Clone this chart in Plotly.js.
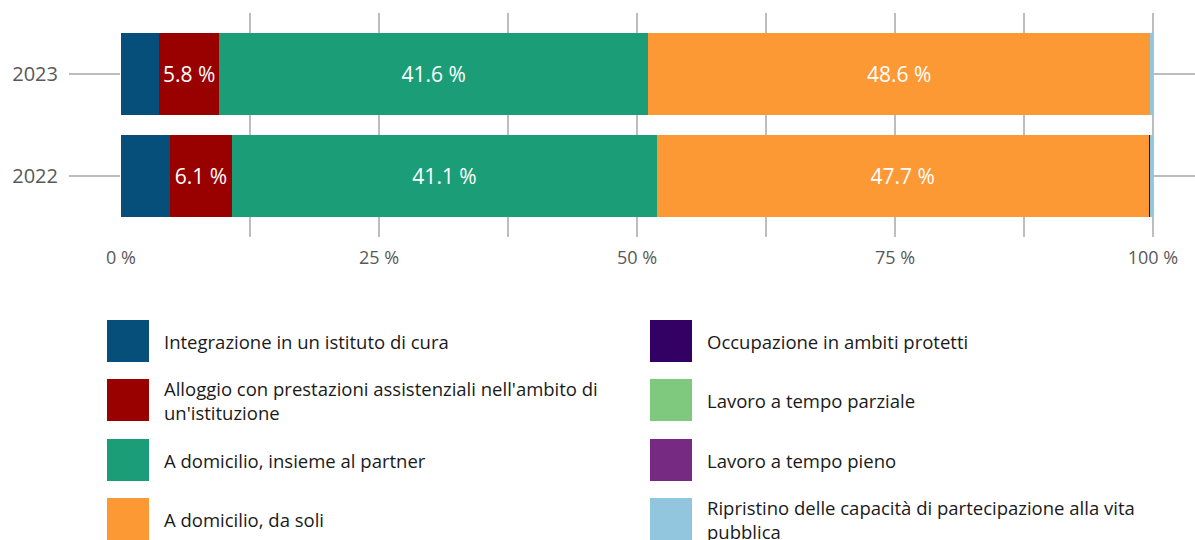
<!DOCTYPE html>
<html>
<head>
<meta charset="utf-8">
<script src="https://cdn.plot.ly/plotly-3.0.1.min.js"></script>
<style>html,body{margin:0;padding:0;background:#fff;}#chart{width:1195px;height:540px;}</style>
</head>
<body>
<div id="chart"></div>
<script>
// ---- data ----
const years = ['2022', '2023'];
const seriesNames = [
  'Integrazione in un istituto di cura',
  "Alloggio con prestazioni assistenziali nell'ambito di<br>un'istituzione",
  'A domicilio, insieme al partner',
  'A domicilio, da soli',
  'Occupazione in ambiti protetti',
  'Lavoro a tempo parziale',
  'Lavoro a tempo pieno',
  'Ripristino delle capacità di partecipazione alla vita<br>pubblica'
];
const integrazione = [4.7, 3.7];
const alloggio = [6.1, 5.8];
const partner = [41.1, 41.6];
const soli = [47.7, 48.6];
const occupazione = [0.1, 0.0];
const parziale = [0.0, 0.0];
const pieno = [0.0, 0.0];
const ripristino = [0.3, 0.3];
const seriesValues = [integrazione, alloggio, partner, soli, occupazione, parziale, pieno, ripristino];
const seriesColors = ['#054f7a', '#990000', '#1b9e77', '#fd9935', '#330063', '#7fc97f', '#772a81', '#92c5de'];
const labelled = [false, true, true, true, false, false, false, false];
const xTickVals = [0, 12.5, 25, 37.5, 50, 62.5, 75, 87.5, 100];
const xTickText = ['0 %', '', '25 %', '', '50 %', '', '75 %', '', '100 %'];

// ---- layout helpers (pixel -> paper) ----
const W = 1195, H = 540;
const M = {l: 121, r: 0, t: 13, b: 303};
const pw = W - M.l - M.r, ph = H - M.t - M.b;
const px = x => (x - M.l) / pw;
const py = y => (H - M.b - y) / ph;
const FONT = 'Open Sans, Noto Sans, sans-serif';

const traces = seriesValues.map((vals, i) => ({
  type: 'bar',
  orientation: 'h',
  name: seriesNames[i],
  y: years,
  x: vals,
  marker: {color: seriesColors[i], line: {width: 0}},
  text: labelled[i] ? vals.map(v => v.toFixed(1) + ' %') : vals.map(() => ''),
  texttemplate: labelled[i] ? '%{text}' : '',
  textposition: labelled[i] ? 'inside' : 'none',
  insidetextanchor: 'middle',
  textangle: 0,
  insidetextfont: {color: '#ffffff', size: 21, family: FONT},
  hoverinfo: 'none'
}));

// custom legend (two columns of four)
const shapes = [];
const annotations = [];
const colX = [107, 650];
const rowTop = [320, 379, 439, 498];
seriesNames.forEach((name, i) => {
  const c = Math.floor(i / 4), r = i % 4;
  const x0 = colX[c], y0 = rowTop[r];
  shapes.push({type: 'rect', xref: 'paper', yref: 'paper',
    x0: px(x0), x1: px(x0 + 42), y0: py(y0 + 42), y1: py(y0),
    fillcolor: seriesColors[i], line: {width: 0}});
  annotations.push({xref: 'paper', yref: 'paper', x: px(x0 + 55), y: py(y0 + 21),
    xanchor: 'left', yanchor: 'middle', align: 'left', showarrow: false,
    text: name, font: {size: 18.5, color: '#1a1a1a', family: FONT}});
});

const layout = {
  width: W, height: H,
  margin: M,
  paper_bgcolor: '#ffffff', plot_bgcolor: '#ffffff',
  barmode: 'stack',
  bargap: 0.2,
  showlegend: false,
  font: {family: FONT, color: '#595959'},
  xaxis: {
    range: [0, pw / 10.32],
    tickvals: xTickVals, ticktext: xTickText,
    showgrid: true, gridcolor: '#bdbdbd', gridwidth: 2,
    zeroline: false, showline: false, ticks: '',
    tickfont: {size: 18, color: '#595959', family: FONT},
    ticklabelstandoff: 8,
    fixedrange: true
  },
  yaxis: {
    type: 'category',
    range: [-0.6, 1.6],
    showgrid: true, gridcolor: '#bdbdbd', gridwidth: 2,
    zeroline: false, showline: false,
    ticks: 'outside', ticklen: 51, tickwidth: 2, tickcolor: '#bdbdbd',
    tickfont: {size: 20, color: '#595959', family: FONT},
    ticklabelstandoff: 7,
    fixedrange: true
  },
  shapes: shapes,
  annotations: annotations
};

Plotly.newPlot('chart', traces, layout, {staticPlot: true, displayModeBar: false});
</script>
</body>
</html>
